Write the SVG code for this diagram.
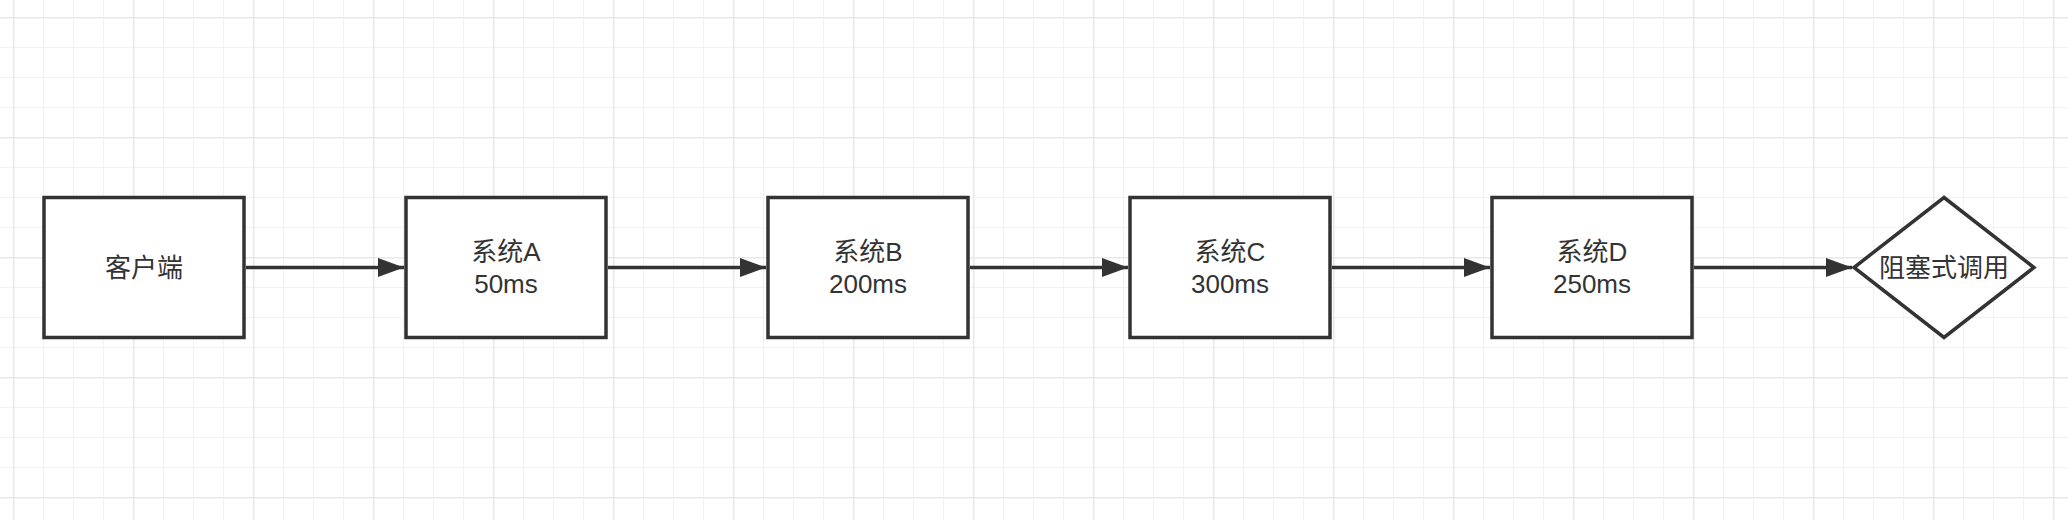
<svg xmlns="http://www.w3.org/2000/svg" width="2068" height="520" viewBox="0 0 2068 520">
<defs>
<pattern id="minor" width="30" height="30" patternUnits="userSpaceOnUse" x="13" y="17">
<path d="M0 0V30M0 0H30" fill="none" stroke="#f2f2f2" stroke-width="2"/>
</pattern>
<pattern id="major" width="120" height="120" patternUnits="userSpaceOnUse" x="13" y="17">
<path d="M0 0V120M0 0H120" fill="none" stroke="#e8e8e8" stroke-width="3"/>
</pattern>
<marker id="arr" markerWidth="26" markerHeight="20" refX="26" refY="10" markerUnits="userSpaceOnUse" orient="auto">
<path d="M0 0.5L26 10L0 19.5Z" fill="#333"/>
</marker>
</defs>
<style>
.box{fill:#fff;stroke:#333;stroke-width:3.5}
.t{font-family:"Liberation Sans","Noto Sans CJK SC",sans-serif;font-size:26px;fill:#333;text-anchor:middle}
.c{stroke:#333;stroke-width:3.5;fill:none}
</style>
<rect width="2068" height="520" fill="#fff"/>
<rect width="2068" height="520" fill="url(#minor)"/>
<rect width="2068" height="520" fill="url(#major)"/>
<g id="connectors">
<line class="c" x1="246" y1="267.5" x2="404" y2="267.5" marker-end="url(#arr)"/>
<line class="c" x1="608" y1="267.5" x2="766" y2="267.5" marker-end="url(#arr)"/>
<line class="c" x1="970" y1="267.5" x2="1128" y2="267.5" marker-end="url(#arr)"/>
<line class="c" x1="1332" y1="267.5" x2="1490" y2="267.5" marker-end="url(#arr)"/>
<line class="c" x1="1694" y1="267.5" x2="1852" y2="267.5" marker-end="url(#arr)"/>
</g>
<g id="client">
<rect class="box" x="44" y="197.5" width="200" height="140"/>
<text class="t" x="144" y="277">客户端</text>
</g>
<g id="sysA">
<rect class="box" x="406" y="197.5" width="200" height="140"/>
<text class="t" x="506" y="261">系统A</text>
<text class="t" x="506" y="293">50ms</text>
</g>
<g id="sysB">
<rect class="box" x="768" y="197.5" width="200" height="140"/>
<text class="t" x="868" y="261">系统B</text>
<text class="t" x="868" y="293">200ms</text>
</g>
<g id="sysC">
<rect class="box" x="1130" y="197.5" width="200" height="140"/>
<text class="t" x="1230" y="261">系统C</text>
<text class="t" x="1230" y="293">300ms</text>
</g>
<g id="sysD">
<rect class="box" x="1492" y="197.5" width="200" height="140"/>
<text class="t" x="1592" y="261">系统D</text>
<text class="t" x="1592" y="293">250ms</text>
</g>
<g id="blocking">
<polygon class="box" points="1944,197.5 2034,267.5 1944,337.5 1854,267.5"/>
<text class="t" x="1944" y="277">阻塞式调用</text>
</g>
</svg>
